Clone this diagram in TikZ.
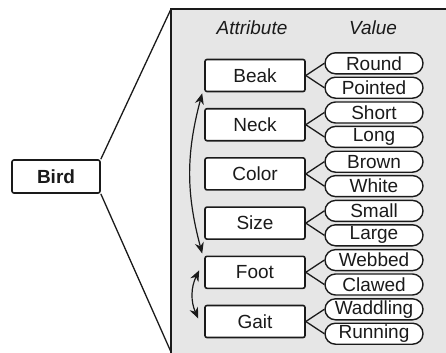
\documentclass[tikz,border=0pt]{standalone}
\usepackage{fontspec}
\setmainfont{Liberation Sans}
\usetikzlibrary{arrows.meta}
\definecolor{ink}{HTML}{1A1A1A}
\definecolor{panelgray}{HTML}{E6E6E6}
\tikzset{
  txt/.style={font=\fontsize{19bp}{21bp}\selectfont, text=ink},
  attrbox/.style={txt, draw=ink, line width=1.6bp, rounded corners=2bp, fill=white,
    minimum width=100bp, minimum height=32bp, inner sep=0pt},
  valbox/.style={txt, draw=ink, line width=1.4bp, rounded corners=10.5bp, fill=white,
    minimum width=98bp, minimum height=21bp, inner sep=0pt},
  link/.style={draw=ink, line width=1.3bp},
  relarrow/.style={draw=ink, line width=1.2bp, {Stealth[length=11bp,width=9bp]}-{Stealth[length=11bp,width=9bp]}},
  header/.style={txt, font=\fontsize{19bp}{21bp}\selectfont\itshape}
}
\begin{document}
\begin{tikzpicture}[x=1bp,y=-1bp]
\useasboundingbox (0,0) rectangle (446,352);
% panel
\fill[panelgray] (171,9) rectangle (470,370);
\draw[ink, line width=1.4bp] (171,370) -- (171,9) -- (470,9);
\coordinate (ptl) at (171,9);
\coordinate (pbl) at (171,352);
% bird
\node[attrbox, minimum width=88bp, minimum height=33bp, font=\fontsize{19bp}{21bp}\selectfont\bfseries] (bird) at (56,176.5) {Bird};
\draw[link] (bird.north east) -- (ptl);
\draw[link] (bird.south east) -- (pbl);
% headers
\node[header] (hattr) at (252,28) {Attribute};
\node[header] (hval) at (373,28) {Value};
% attributes and values
\foreach \name/\lab/\va/\vb [count=\i from 0] in
  {beak/Beak/Round/Pointed, neck/Neck/Short/Long, color/Color/Brown/White,
   size/Size/Small/Large, foot/Foot/Webbed/Clawed, gait/Gait/Waddling/Running}{
  \pgfmathsetmacro{\cy}{75.5+49.2*\i}
  \node[attrbox] (\name) at (255,\cy) {\lab};
  \node[valbox] (\name a) at (374,\cy-12.2) {\va};
  \node[valbox] (\name b) at (374,\cy+12.2) {\vb};
  \draw[link] (\name.east) -- (\name a.west);
  \draw[link] (\name.east) -- (\name b.west);
}
% relation arrows
\draw[relarrow] ([xshift=-2bp,yshift=-1bp]beak.south west) to[bend right=15] ([xshift=-2bp,yshift=2bp]foot.north west);
\draw[relarrow] ([xshift=-5bp,yshift=2bp]foot.west) to[bend right=25] ([xshift=-6bp,yshift=3bp]gait.west);
\end{tikzpicture}
\end{document}
